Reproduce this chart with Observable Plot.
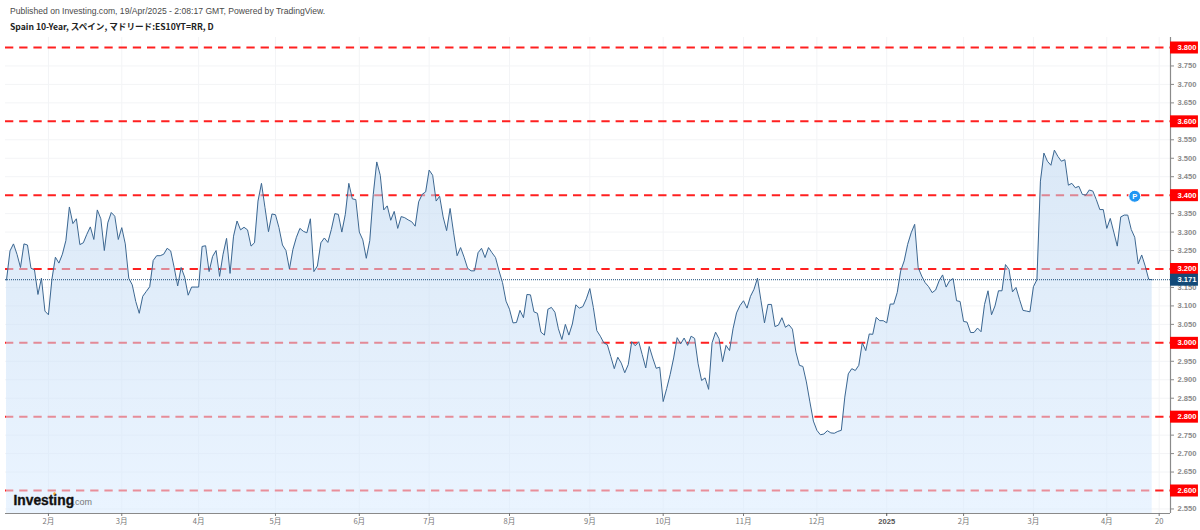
<!DOCTYPE html>
<html><head><meta charset="utf-8">
<script src="https://cdn.jsdelivr.net/npm/d3@7"></script>
<script src="https://cdn.jsdelivr.net/npm/@observablehq/plot@0.6"></script>
<style>
html,body{margin:0;padding:0;background:#fff;width:1200px;height:530px;overflow:hidden}
#hd{height:37px;position:relative;font-family:"Liberation Sans",Arial,sans-serif}
#hd div{position:absolute;left:10px;white-space:nowrap}
#l1{top:6px;font-size:8.6px;color:#4a4a4a}
#l2{top:20px;font-size:8.6px;font-weight:700;color:#222;font-family:"Noto Sans CJK JP","Liberation Sans",sans-serif}
svg{display:block}
</style></head><body>
<div id="hd"><div id="l1">Published on Investing.com, 19/Apr/2025 - 2:08:17 GMT, Powered by TradingView.</div>
<div id="l2">Spain 10-Year, スペイン, マドリード:ES10YT=RR, D</div></div>
<div id="c"></div>
<script>
const yields = [
3.170,3.249,3.268,3.240,3.204,3.268,3.265,3.202,3.198,3.131,3.175,3.086,3.076,3.172,3.232,3.216,3.240,3.277,3.368,3.323,
3.336,3.266,3.271,3.294,3.314,3.280,3.360,3.336,3.250,3.325,3.353,3.343,3.280,3.312,3.268,3.175,3.157,3.112,3.080,3.126,
3.139,3.152,3.223,3.236,3.236,3.240,3.256,3.249,3.204,3.154,3.204,3.178,3.129,3.151,3.151,3.151,3.261,3.263,3.193,3.234,
3.250,3.180,3.240,3.283,3.188,3.289,3.330,3.306,3.313,3.306,3.262,3.271,3.384,3.432,3.366,3.301,3.349,3.347,3.312,3.265,
3.250,3.200,3.253,3.286,3.310,
3.302,3.298,3.336,3.193,3.208,3.271,3.284,3.272,3.307,3.350,3.348,3.300,3.348,3.432,3.390,3.388,3.300,3.279,3.229,3.277,
3.402,3.490,3.454,3.360,3.371,3.332,3.356,3.310,3.342,3.339,3.333,3.328,3.316,3.382,3.402,3.409,3.468,3.454,3.384,3.397,
3.341,3.304,3.364,3.298,3.236,3.258,3.232,3.202,3.195,3.195,3.244,3.256,3.231,3.258,3.244,3.231,3.195,3.163,3.113,3.091,
3.054,3.055,3.088,3.068,3.131,3.130,3.084,3.080,
3.029,3.021,3.091,3.096,3.083,3.038,3.009,3.050,3.021,3.051,3.103,3.094,3.098,3.119,3.147,3.096,3.033,3.018,3.000,2.995,
2.963,2.930,2.961,2.945,2.919,2.941,3.003,2.992,3.003,2.968,2.932,2.990,2.959,2.931,2.934,2.841,2.876,2.914,2.959,3.014,
2.997,3.013,2.993,3.018,3.012,2.943,2.898,2.905,2.874,3.000,3.029,3.011,2.949,2.993,2.979,3.038,3.081,3.101,3.114,3.094,
3.126,3.145,3.175,3.114,3.054,3.104,3.104,3.044,3.048,3.068,3.042,3.049,3.037,2.975,2.939,2.936,2.894,2.840,2.788,2.763,
2.751,2.753,2.762,2.756,2.755,2.760,2.763,2.853,2.916,2.930,2.925,2.939,3.000,2.979,3.024,3.023,3.069,3.060,
3.060,3.054,3.105,3.105,
3.136,3.195,3.222,3.267,3.298,3.321,3.204,3.181,3.163,3.152,3.136,3.143,3.168,3.184,3.151,3.168,3.174,3.114,3.112,3.058,
3.056,3.028,3.028,3.040,3.030,3.104,3.141,3.076,3.100,3.141,3.141,3.212,3.199,3.138,3.150,3.118,3.088,3.086,3.084,3.152,
3.171,3.438,3.514,3.492,3.481,3.522,3.505,3.492,3.496,3.427,3.432,3.420,3.424,3.402,3.400,3.414,3.411,3.388,3.361,3.361,
3.310,3.337,3.300,3.262,3.341,3.346,3.346,3.307,3.286,3.214,3.238,3.208,3.172,3.171];
const monthPos = [12,33,55,77,101,121,144,167,188,211,232,274,294,315,330];
const monthLab = ["2月","3月","4月","5月","6月","7月","8月","9月","10月","11月","12月","2月","3月","4月","20"];
const yearPos = [252], yearLab = ["2025"];
const levels = [3.8,3.6,3.4,3.2,3.0,2.8,2.6];
const grayTicks = [2.55,2.65,2.7,2.75,2.85,2.9,2.95,3.05,3.1,3.15,3.25,3.3,3.35,3.45,3.5,3.55,3.65,3.7,3.75];
const last = 3.171;
const xMin = -0.29, xMax = 333.24, yMin = 2.5377, yMax = 3.8271;
const tagEnd = xMax + 8;
const series = yields.map((v,i)=>({i,v}));
const font = '"Liberation Sans",Arial,sans-serif';
const fmt = d3.format(".3f");
const defs = () => {
  const d = d3.create("svg:defs");
  const g = d.append("linearGradient").attr("id","af").attr("x1",0).attr("x2",0).attr("y1",0).attr("y2",1);
  g.append("stop").attr("offset","0%").attr("stop-color","#bdd6f0");
  g.append("stop").attr("offset","100%").attr("stop-color","#d9ebff");
  return d.node();
};
const chart = Plot.plot({
  width:1200,height:493,marginLeft:5,marginRight:30,marginTop:0,marginBottom:17,
  style:{fontFamily:font,background:"#fff"},
  x:{type:"linear",domain:[xMin,xMax],axis:null},
  y:{domain:[yMin,yMax],axis:null},
  marks:[
    defs,
    Plot.ruleY(grayTicks,{stroke:"#f3f4f6",strokeWidth:1}),
    Plot.ruleX(monthPos.concat(yearPos),{stroke:"#f3f4f6",strokeWidth:1}),
    Plot.ruleY(levels,{stroke:"#ff2020",strokeWidth:2,strokeDasharray:"8.3,5.9"}),
    Plot.areaY(series,{x:"i",y1:yMin,y2:"v",fill:"url(#af)",fillOpacity:0.55,curve:"linear"}),
    Plot.line(series,{x:"i",y:"v",stroke:"#3c6791",strokeWidth:1,curve:"linear"}),
    Plot.ruleY([last],{stroke:"#1c4f7c",strokeWidth:1,strokeDasharray:"1,1"}),
    Plot.ruleX([xMax],{stroke:"#8a8a8a",strokeWidth:1.2}),
    Plot.ruleY([yMin],{stroke:"#8a8a8a",strokeWidth:1.2}),
    Plot.axisY(grayTicks,{anchor:"right",tickSize:3,tickPadding:4,tickFormat:fmt,fontSize:7.6,fontWeight:700,color:"#8a8a8a",label:null,textStroke:"none"}),
    Plot.axisX(monthPos,{anchor:"bottom",tickSize:3,tickPadding:2,tickFormat:(d,i)=>monthLab[i],fontSize:7.6,color:"#777",label:null,fontFamily:'"Noto Sans CJK JP",sans-serif'}),
    Plot.axisX(yearPos,{anchor:"bottom",tickSize:3,tickPadding:2,tickFormat:(d,i)=>yearLab[i],fontSize:7.6,fontWeight:700,color:"#555",label:null}),
    Plot.ruleY(levels,{x1:xMax,x2:tagEnd,stroke:"#ff0000",strokeWidth:12}),
    Plot.text(levels,{x:()=>xMax,y:d=>d,text:d=>fmt(d),dx:7,textAnchor:"start",fill:"#fff",fontSize:7.6,fontWeight:700}),
    Plot.ruleY([last],{x1:xMax,x2:tagEnd,stroke:"#134a78",strokeWidth:12}),
    Plot.text([last],{x:()=>xMax,y:d=>d,text:d=>fmt(d),dx:7,textAnchor:"start",fill:"#fff",fontSize:7.6,fontWeight:700}),
    Plot.dot([{x:323,y:3.397}],{x:"x",y:"y",r:6,fill:"#2196f3",stroke:"#fff",strokeWidth:1}),
    Plot.text([{x:323,y:3.397}],{x:"x",y:"y",text:()=>"P",fill:"#fff",fontSize:7.5,fontWeight:700}),
    Plot.text(["Investing"],{frameAnchor:"bottom-left",dx:8,dy:-9,textAnchor:"start",lineAnchor:"bottom",fill:"#111",stroke:"#111",strokeWidth:0.35,fontSize:13.8,fontWeight:700}),
    Plot.text([".com"],{frameAnchor:"bottom-left",dx:67,dy:-9,textAnchor:"start",lineAnchor:"bottom",fill:"#777",fontSize:9}),
    Plot.dot([0],{frameAnchor:"bottom-left",dx:49,dy:-20,r:1.2,fill:"#f5a623"})
  ]
});
document.getElementById("c").appendChild(chart);
</script>
</body></html>
